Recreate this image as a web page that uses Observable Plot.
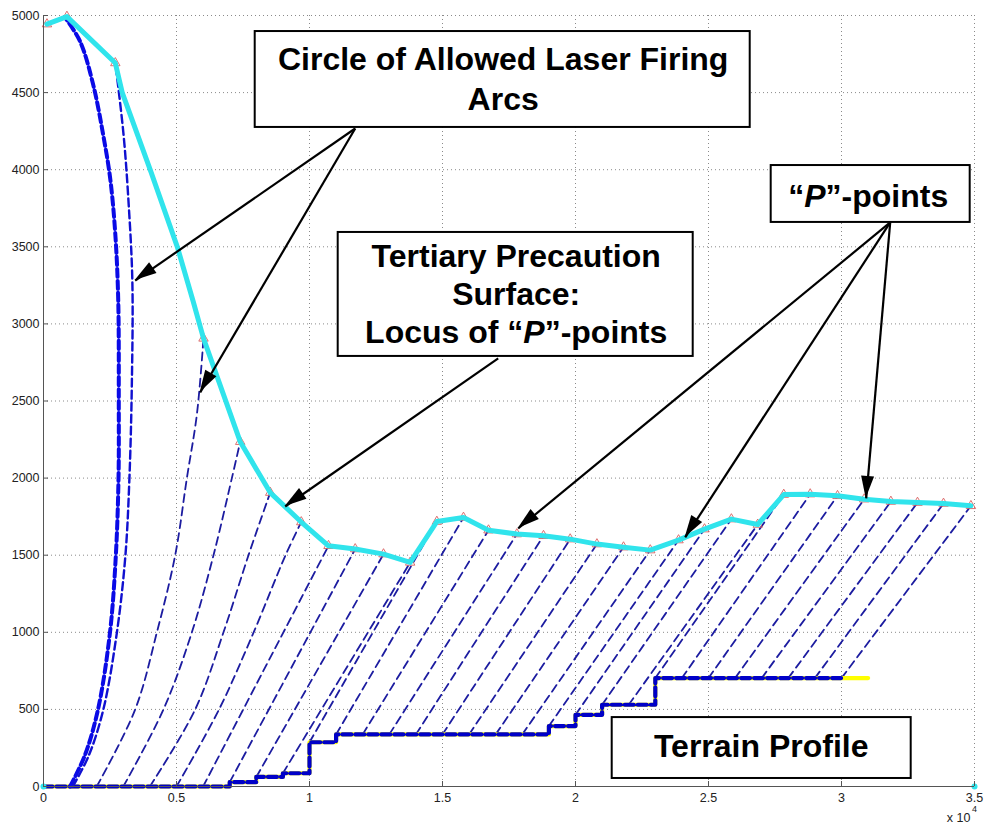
<!DOCTYPE html>
<html><head><meta charset="utf-8">
<script src="https://cdn.jsdelivr.net/npm/d3@7"></script>
<script src="https://cdn.jsdelivr.net/npm/@observablehq/plot@0.6"></script>
<style>
html,body{margin:0;padding:0;background:#fff;}
#chart{width:984px;height:829px;}
</style></head>
<body><div id="chart"></div>
<script>
// ---------- axes ----------
const xTicks = [0, 5000, 10000, 15000, 20000, 25000, 30000, 35000];
const yTicks = [0, 500, 1000, 1500, 2000, 2500, 3000, 3500, 4000, 4500, 5000];

// ---------- "P"-points (ends of the firing arcs) ----------
const pointX = [130, 880, 2700, 6015, 7395, 8523, 9690, 10714, 11718, 12782, 13785, 14787, 15789, 16729, 17796, 18797, 19800, 20805, 21805, 22810, 23874, 24850, 25860, 26850, 27830, 28823, 29850, 30853, 31856, 32857, 33835, 34865];
const pointY = [4944, 4993, 4692, 2906, 2236, 1906, 1715, 1561, 1540, 1507, 1453, 1718, 1744, 1662, 1637, 1626, 1604, 1572, 1552, 1533, 1598, 1669, 1734, 1699, 1893, 1896, 1885, 1863, 1848, 1841, 1835, 1820];
// extra vertices of the tertiary precaution surface where P-points are sparse
const surfaceExtraX = [2960, 4010, 5030, 5620];
const surfaceExtraY = [4500, 4000, 3500, 3150];

// ---------- terrain profile (step heights) ----------
const terrainX = [0, 7000, 8000, 9000, 10000, 11000, 19000, 20000, 21000, 23000, 30000];
const terrainH = [0, 28, 62, 86, 287, 338, 392, 465, 530, 703, 703];
const terrainYellowEndX = 31000;

// ---------- firing arcs: ground start x (one per P-point from index 3) ----------
const arcGroundX = [2000, 3000, 4000, 5000, 6000, 7000, 8000, 9000, 10000, 11000, 12000, 13000, 14000, 15000, 16000, 17000, 18000, 19000, 20000, 21000, 22000, 23000, 24000, 25000, 26000, 27000, 28000, 29000, 30000];
// bends of the curved early arcs
const bend2000X = [3447, 4263, 4951, 5390, 5767];
const bend2000Y = [500, 1000, 1500, 2000, 2414];
const bend3000X = [4511, 5578, 6391, 7082];
const bend3000Y = [500, 1000, 1500, 2000];
const bend4000X = [5703, 6767, 7707];
const bend4000Y = [500, 1000, 1500];
const bend5000X = [6600, 7900, 9100];
const bend5000Y = [500, 1000, 1500];
// the two heavy arcs near the origin
const arcAX = [1000, 1550, 2050, 2500, 2720, 2820, 2830, 2810, 2700, 2510, 2245, 1870, 1380, 860];
const arcAY = [0, 200, 500, 1000, 1500, 2000, 2500, 3150, 3580, 3940, 4225, 4550, 4830, 4975];
const arcBX = [1100, 1700, 2250, 2760, 3080, 3230, 3320, 3340, 3195, 3010, 2700];
const arcBY = [0, 200, 500, 1000, 1500, 2000, 2600, 3277, 3795, 4226, 4692];
// cyan end markers on the ground
const groundDotX = [0, 35000];
const groundDotY = [0, 0];

// ---------- annotations ----------
const boxX1 = [7959, 11079, 27357, 21380];
const boxX2 = [26568, 24425, 34838, 32620];
const boxY1 = [4274, 2789, 3658, 52];
const boxY2 = [4896, 3593, 4027, 447];
const labelText = ["Circle of Allowed Laser Firing", "Arcs", "Tertiary Precaution", "Surface:", "Locus of “P”-points", "“P”-points", "Terrain Profile"];
const labelX = [17281, 17281, 17771, 17771, 17771, 31003, 26981];
const labelY = [4711, 4455, 3434, 3187, 2941, 3826, 259];
const arrowX1 = [11718, 11718, 17094, 31831, 31831, 31831];
const arrowY1 = [4267, 4267, 2776, 3658, 3658, 3658];
const arrowX2 = [3447, 5891, 9086, 17846, 24124, 30928];
const arrowY2 = [3281, 2555, 1816, 1673, 1615, 1868];

// ---------- build tables ----------
const W = 984, H = 829, mL = 43, mR = 10, mT = 15, mB = 43;
const frameW = W - mL - mR, frameH = H - mT - mB;

function groundAt(x) {
  let h = terrainH[0];
  terrainX.forEach((tx, i) => { if (x >= tx) h = terrainH[i]; });
  return h;
}
const bendMap = new Map([[2000, [bend2000X, bend2000Y]], [3000, [bend3000X, bend3000Y]], [4000, [bend4000X, bend4000Y]], [5000, [bend5000X, bend5000Y]]]);

const arcRows = [];
arcGroundX.forEach((gx, i) => {
  const pi = i + 3;
  arcRows.push({arc: gx, x: gx, y: groundAt(gx)});
  const b = bendMap.get(gx);
  if (b) b[0].forEach((bx, j) => arcRows.push({arc: gx, x: bx, y: b[1][j]}));
  arcRows.push({arc: gx, x: pointX[pi], y: pointY[pi]});
});
const arcARows = arcAX.map((x, i) => ({x, y: arcAY[i]}));
const arcBRows = arcBX.map((x, i) => ({x, y: arcBY[i]}));

const pointRows = pointX.map((x, i) => ({x, y: pointY[i]}));
const surfaceRows = pointRows.concat(surfaceExtraX.map((x, i) => ({x, y: surfaceExtraY[i]})))
  .sort((a, b) => a.x - b.x);
const terrainRows = terrainX.map((x, i) => ({x, y: terrainH[i]}));
const yellowRows = terrainRows.concat([{x: terrainYellowEndX, y: terrainH[terrainH.length - 1]}]);
const groundDots = groundDotX.map((x, i) => ({x, y: groundDotY[i]}));

const boxes = boxX1.map((x, i) => ({x1: x, x2: boxX2[i], y1: boxY1[i], y2: boxY2[i]}));
const labels = labelText.map((t, i) => ({t, x: labelX[i], y: labelY[i]}));
const arrows = arrowX1.map((x, i) => ({x1: x, y1: arrowY1[i], x2: arrowX2[i], y2: arrowY2[i]}));

const plot = Plot.plot({
  width: W, height: H,
  marginLeft: mL, marginRight: mR, marginTop: mT, marginBottom: mB,
  x: {domain: [0, 35000]},
  y: {domain: [0, 5000]},
  style: {fontFamily: "'Liberation Sans', Arial, sans-serif", fontSize: "12.5px", color: "#222", background: "#fff"},
  marks: [
    // dotted grid
    Plot.ruleX(xTicks, {stroke: "#8a8a8a", strokeWidth: 1, strokeDasharray: "1,3"}),
    Plot.ruleY(yTicks, {stroke: "#8a8a8a", strokeWidth: 1, strokeDasharray: "1,3"}),
    // thin firing arcs
    Plot.line(arcRows, {x: "x", y: "y", z: "arc", curve: "catmull-rom", stroke: "#1c1ca0", strokeWidth: 1.8, strokeDasharray: "8,5"}),
    // terrain
    Plot.line(yellowRows, {x: "x", y: "y", curve: "step-after", stroke: "#ffff00", strokeWidth: 4.2}),
    Plot.line(terrainRows, {x: "x", y: "y", curve: "step-after", stroke: "#0000c8", strokeWidth: 4.2, strokeDasharray: "9,4"}),
    // heavy arcs
    Plot.line(arcARows, {x: "x", y: "y", curve: "catmull-rom", stroke: "#0a0ae6", strokeWidth: 4, strokeDasharray: "8,4"}),
    Plot.line(arcBRows, {x: "x", y: "y", curve: "catmull-rom", stroke: "#1010d0", strokeWidth: 2.4, strokeDasharray: "8,4"}),
    // P-point markers
    Plot.dot(pointRows, {x: "x", y: "y", symbol: "triangle", r: 3.5, stroke: "#d86060", fill: "none", strokeWidth: 0.9}),
    // tertiary precaution surface
    Plot.line(surfaceRows, {x: "x", y: "y", stroke: "#30e4ec", strokeWidth: 5, strokeLinejoin: "round", strokeLinecap: "round"}),
    Plot.dot(groundDots, {x: "x", y: "y", r: 3, fill: "#30e4ec", stroke: "none"}),
    // axes
    Plot.ruleX([0], {stroke: "#555"}),
    Plot.ruleY([0], {stroke: "#555"}),
    Plot.ruleX(xTicks, {stroke: "#555", insetTop: frameH - 5}),
    Plot.ruleY(yTicks, {stroke: "#555", insetRight: frameW - 5}),
    Plot.axisX(xTicks, {tickSize: 0, tickPadding: 7, tickFormat: d => String(d / 1e4), label: null, fill: "#222"}),
    Plot.axisY(yTicks, {tickSize: 0, tickPadding: 4, tickFormat: d => String(d), label: null, fill: "#222"}),
    Plot.text(["x 10"], {frameAnchor: "bottom-right", dx: -4, dy: 35.5, textAnchor: "end", fontSize: 12.5, fill: "#222"}),
    Plot.text(["4"], {frameAnchor: "bottom-right", dx: -2.5, dy: 25, textAnchor: "start", fontSize: 9, fill: "#222"}),
    // annotation boxes and labels
    Plot.rect(boxes, {x1: "x1", x2: "x2", y1: "y1", y2: "y2", fill: "#fff", stroke: "#000", strokeWidth: 2}),
    Plot.text(labels, {x: "x", y: "y", text: "t", fontSize: 32, fontWeight: "bold", fill: "#000", textAnchor: "middle", fontFamily: "'Liberation Sans', Arial, sans-serif"}),
    // arrow shafts
    Plot.link(arrows, {x1: "x1", y1: "y1", x2: "x2", y2: "y2", stroke: "#000", strokeWidth: 2.2})
  ]
});

// filled arrow heads placed with the plot's own scales
const sx = plot.scale("x"), sy = plot.scale("y");
const heads = d3.select(plot).append("g").attr("class", "arrow-heads");
arrows.forEach(a => {
  const px1 = sx.apply(a.x1), py1 = sy.apply(a.y1), px2 = sx.apply(a.x2), py2 = sy.apply(a.y2);
  const ang = Math.atan2(py2 - py1, px2 - px1);
  const L = 22, Wd = 6.5;
  const bx = px2 - L * Math.cos(ang), by = py2 - L * Math.sin(ang);
  const nx = -Math.sin(ang), ny = Math.cos(ang);
  heads.append("polygon")
    .attr("points", `${px2},${py2} ${bx + nx * Wd},${by + ny * Wd} ${bx - nx * Wd},${by - ny * Wd}`)
    .attr("fill", "#000");
});

// italic P inside the quoted "P"
d3.select(plot).selectAll("text").each(function () {
  const t = this.textContent;
  if (t.includes("“P”")) {
    const parts = t.split("P");
    const sel = d3.select(this);
    sel.text(null);
    sel.append("tspan").text(parts[0]);
    sel.append("tspan").attr("font-style", "italic").text("P");
    sel.append("tspan").text(parts.slice(1).join("P"));
  }
});

document.getElementById("chart").appendChild(plot);
</script>
</body></html>
